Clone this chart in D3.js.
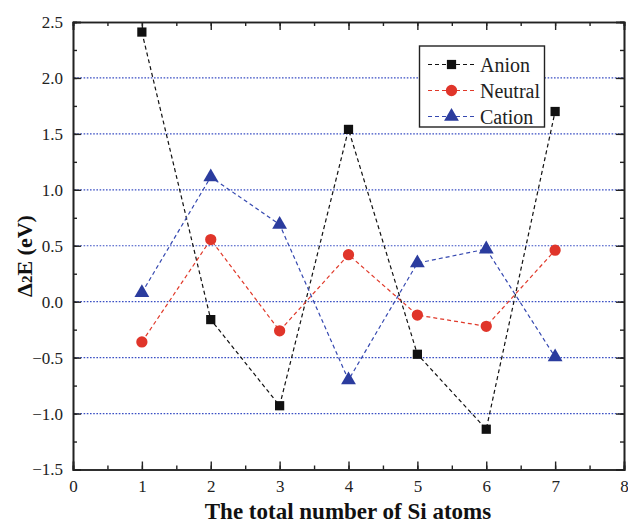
<!DOCTYPE html>
<html>
<head>
<meta charset="utf-8">
<script src="https://cdn.jsdelivr.net/npm/d3@7"></script>
<style>
  html, body { margin: 0; padding: 0; background: #fff; }
  svg { display: block; font-family: "Liberation Serif", "Times New Roman", serif; }
</style>
</head>
<body>
<svg id="chart" width="628" height="525"></svg>
<script>
// Number of Si atoms in the cluster
const siAtoms = [1, 2, 3, 4, 5, 6, 7];

// Second-order energy difference Δ2E (eV) for each charge state
const anion   = [2.41, -0.16, -0.93, 1.54, -0.47, -1.14, 1.70];
const neutral = [-0.36, 0.555, -0.26, 0.42, -0.12, -0.22, 0.46];
const cation  = [0.08, 1.115, 0.69, -0.70, 0.345, 0.47, -0.495];

const xTicks = [0, 1, 2, 3, 4, 5, 6, 7, 8];
const yTicks = [-1.5, -1.0, -0.5, 0.0, 0.5, 1.0, 1.5, 2.0, 2.5];
const gridValues = [-1.0, -0.5, 0.0, 0.5, 1.0, 1.5, 2.0];

const seriesNames = ["Anion", "Neutral", "Cation"];

const series = [
  { name: seriesNames[0], values: anion,   color: "#111111", fill: "#111111", symbol: d3.symbolSquare,   size: 85 },
  { name: seriesNames[1], values: neutral, color: "#e0392a", fill: "#e0352a", symbol: d3.symbolCircle,   size: 100 },
  { name: seriesNames[2], values: cation,  color: "#3548b0", fill: "#2b3c9e", symbol: d3.symbolTriangle, size: 95 }
];

const svg = d3.select("#chart");
const plotLeft = 73, plotRight = 624, plotTop = 22, plotBottom = 469.5;

const x = d3.scaleLinear().domain([0, 8]).range([plotLeft, plotRight]);
const y = d3.scaleLinear().domain([-1.5, 2.5]).range([plotBottom, plotTop]);

// Dotted horizontal grid
svg.append("g")
  .selectAll("line")
  .data(gridValues)
  .join("line")
  .attr("x1", plotLeft + 1).attr("x2", plotRight - 1)
  .attr("y1", d => y(d)).attr("y2", d => y(d))
  .attr("stroke", "#3a4fc4")
  .attr("stroke-width", 1.2)
  .attr("stroke-dasharray", "1.6,1.6");

const axisColor = "#222";
const minorX = d3.range(0, 8.01, 0.5);
const minorY = d3.range(-1.5, 2.51, 0.25);

function styleAxis(g) {
  g.select(".domain").attr("stroke", axisColor).attr("stroke-width", 1.6);
  g.selectAll(".tick line").attr("stroke", axisColor).attr("stroke-width", 1.4);
}

// Minor ticks on all four sides (inward)
svg.append("g").attr("transform", `translate(0,${plotBottom})`)
  .call(d3.axisBottom(x).tickValues(minorX).tickSize(-4).tickFormat(""))
  .call(styleAxis);
svg.append("g").attr("transform", `translate(0,${plotTop})`)
  .call(d3.axisTop(x).tickValues(minorX).tickSize(-4).tickFormat(""))
  .call(styleAxis);
svg.append("g").attr("transform", `translate(${plotLeft},0)`)
  .call(d3.axisLeft(y).tickValues(minorY).tickSize(-4).tickFormat(""))
  .call(styleAxis);
svg.append("g").attr("transform", `translate(${plotRight},0)`)
  .call(d3.axisRight(y).tickValues(minorY).tickSize(-4).tickFormat(""))
  .call(styleAxis);

// Major ticks with labels (inward)
const xAxis = svg.append("g").attr("transform", `translate(0,${plotBottom})`)
  .call(d3.axisBottom(x).tickValues(xTicks).tickSize(-8).tickPadding(10).tickFormat(d3.format("d")))
  .call(styleAxis);
xAxis.selectAll("text").attr("font-size", 17).attr("fill", "#222")
  .attr("font-family", "Liberation Serif, serif");

const yAxis = svg.append("g").attr("transform", `translate(${plotLeft},0)`)
  .call(d3.axisLeft(y).tickValues(yTicks).tickSize(-8).tickPadding(10).tickFormat(d3.format(".1f")))
  .call(styleAxis);
yAxis.selectAll("text").attr("font-size", 17).attr("fill", "#222")
  .attr("font-family", "Liberation Serif, serif");

svg.append("g").attr("transform", `translate(0,${plotTop})`)
  .call(d3.axisTop(x).tickValues(xTicks).tickSize(-8).tickFormat(""))
  .call(styleAxis);
svg.append("g").attr("transform", `translate(${plotRight},0)`)
  .call(d3.axisRight(y).tickValues(yTicks).tickSize(-8).tickFormat(""))
  .call(styleAxis);

// Series lines and markers
const line = d3.line().x((d, i) => x(siAtoms[i])).y(d => y(d));

series.forEach(s => {
  svg.append("path")
    .datum(s.values)
    .attr("d", line)
    .attr("fill", "none")
    .attr("stroke", s.color)
    .attr("stroke-width", 1.2)
    .attr("stroke-dasharray", "4,3");
});

series.forEach(s => {
  svg.append("g")
    .selectAll("path")
    .data(s.values)
    .join("path")
    .attr("transform", (d, i) => `translate(${x(siAtoms[i])},${y(d)})`)
    .attr("d", d3.symbol().type(s.symbol).size(s.size))
    .attr("fill", s.fill);
});

// Legend
const legend = svg.append("g");
legend.append("rect")
  .attr("x", 419.5).attr("y", 46).attr("width", 125).attr("height", 81)
  .attr("fill", "#fff").attr("stroke", "#222").attr("stroke-width", 1.4);

series.forEach((s, i) => {
  const cy = 64.5 + i * 26;
  legend.append("line")
    .attr("x1", 428).attr("x2", 475).attr("y1", cy).attr("y2", cy)
    .attr("stroke", s.color).attr("stroke-width", 1.2).attr("stroke-dasharray", "4,3");
  legend.append("path")
    .attr("transform", `translate(451.5,${cy})`)
    .attr("d", d3.symbol().type(s.symbol).size(s.size))
    .attr("fill", s.fill);
  legend.append("text")
    .attr("x", 480).attr("y", cy + 7)
    .attr("font-size", 20).attr("fill", "#222")
    .text(s.name);
});

// Axis titles
svg.append("text")
  .attr("x", 348).attr("y", 519)
  .attr("text-anchor", "middle")
  .attr("font-size", 23).attr("font-weight", "bold").attr("fill", "#111")
  .text("The total number of Si atoms");

const yTitle = svg.append("text")
  .attr("transform", "translate(32,256) rotate(-90)")
  .attr("text-anchor", "middle")
  .attr("font-size", 22).attr("font-weight", "bold").attr("fill", "#111");
yTitle.append("tspan").text("Δ");
yTitle.append("tspan").attr("font-size", 15).text("2");
yTitle.append("tspan").text("E (eV)");
</script>
</body>
</html>
